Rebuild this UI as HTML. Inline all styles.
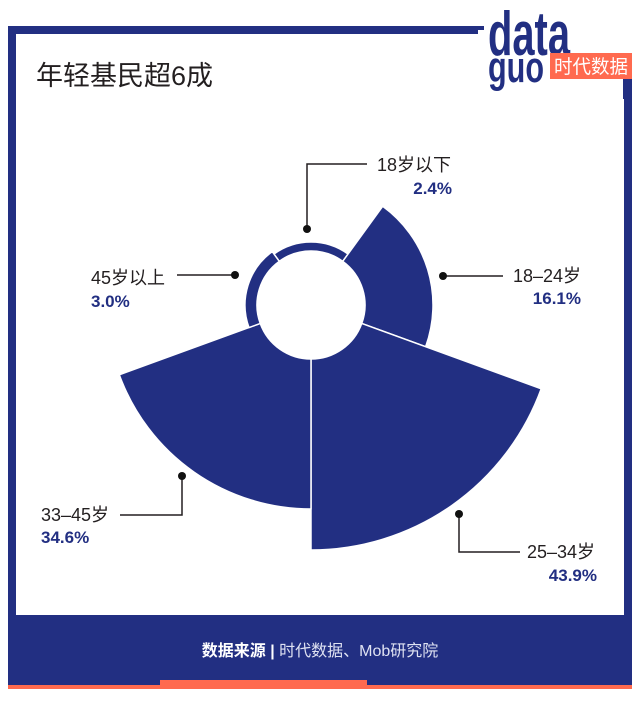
<!DOCTYPE html>
<html><head><meta charset="utf-8"><style>
html,body{margin:0;padding:0;background:#fff;}
body{width:640px;height:706px;overflow:hidden;}
</style></head><body>
<svg width="640" height="706" viewBox="0 0 640 706" xmlns="http://www.w3.org/2000/svg" font-family="'Liberation Sans','Noto Sans CJK SC',sans-serif">
<rect x="8" y="26" width="624" height="663" fill="#222f82"/>
<rect x="16" y="34" width="608" height="581" fill="#fff"/>
<rect x="478" y="0" width="162" height="80" fill="#fff"/>
<rect x="478" y="80" width="145" height="18" fill="#fff"/>
<rect x="470" y="0" width="20" height="26" fill="#fff"/>
<rect x="470" y="26" width="14" height="4" fill="#222f82"/>
<text x="488" y="55" font-family="'Liberation Sans Narrow','Liberation Sans',sans-serif" font-weight="bold" font-size="62" fill="#222f82" textLength="82" lengthAdjust="spacingAndGlyphs">data</text>
<text x="488" y="82" font-family="'Liberation Sans Narrow','Liberation Sans',sans-serif" font-weight="bold" font-size="44" fill="#222f82" textLength="56" lengthAdjust="spacingAndGlyphs">guo</text>
<rect x="550" y="53" width="82" height="26" fill="#ff6a4f"/>
<text x="591" y="73" text-anchor="middle" font-size="19" fill="#fff" textLength="74" lengthAdjust="spacingAndGlyphs">时代数据</text>
<rect x="623" y="79" width="9" height="20" fill="#222f82"/>
<text x="36" y="85" font-size="27" fill="#231f20">年轻基民超6成</text>
<g fill="#222f82" stroke="#fff" stroke-width="1.5" stroke-linejoin="round">
<path d="M273.97,254.03 A63,63 0 0 1 348.03,254.03 L342.74,261.31 A54,54 0 0 0 279.26,261.31 Z"/>
<path d="M382.71,206.30 A122,122 0 0 1 425.64,346.72 L361.74,323.47 A54,54 0 0 0 342.74,261.31 Z"/>
<path d="M541.23,388.79 A245,245 0 0 1 311,550 L311,359 A54,54 0 0 0 361.74,323.47 Z"/>
<path d="M311,509 A204,204 0 0 1 119.30,374.77 L260.26,323.47 A54,54 0 0 0 311,359 Z"/>
<path d="M248.98,327.57 A66,66 0 0 1 272.21,251.61 L279.26,261.31 A54,54 0 0 0 260.26,323.47 Z"/>
</g>
<g stroke="#231f20" stroke-width="1.5" fill="none">
<polyline points="307,229 307,164 367,164"/>
<line x1="443" y1="276" x2="503" y2="276"/>
<line x1="177" y1="275" x2="235" y2="275"/>
<polyline points="182,476 182,515 120,515"/>
<polyline points="459,514 459,552 520,552"/>
</g>
<g fill="#111">
<circle cx="307" cy="229" r="4"/>
<circle cx="443" cy="276" r="4"/>
<circle cx="235" cy="275" r="4"/>
<circle cx="182" cy="476" r="4"/>
<circle cx="459" cy="514" r="4"/>
</g>
<g font-size="18" fill="#231f20">
<text x="377" y="171">18岁以下</text>
<text x="513" y="282">18–24岁</text>
<text x="91" y="284">45岁以上</text>
<text x="41" y="521">33–45岁</text>
<text x="527" y="558">25–34岁</text>
</g>
<g font-size="17" font-weight="bold" fill="#222f82">
<text x="452" y="194" text-anchor="end">2.4%</text>
<text x="581" y="304" text-anchor="end">16.1%</text>
<text x="91" y="307">3.0%</text>
<text x="41" y="543">34.6%</text>
<text x="597" y="581" text-anchor="end">43.9%</text>
</g>
<text x="320" y="656" text-anchor="middle" font-size="16" fill="#dfe2f2"><tspan font-weight="bold" fill="#fff">数据来源</tspan><tspan font-weight="bold" fill="#fff"> | </tspan>时代数据、Mob研究院</text>
<rect x="8" y="685" width="624" height="4" fill="#ff6a4f"/>
<rect x="160" y="680" width="207" height="9" fill="#ff6a4f"/>
</svg>
</body></html>
